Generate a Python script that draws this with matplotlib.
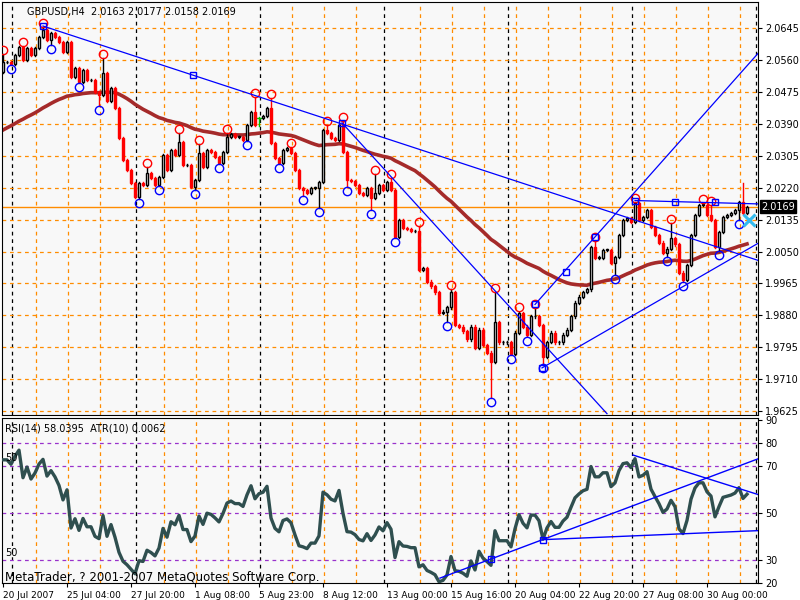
import numpy as np
import matplotlib
matplotlib.use("Agg")
import matplotlib.pyplot as plt

# ---------------- data ----------------
first_open = 2.0528
closes = [
 2.0555,2.0555,2.0550,2.0574,2.0595,2.0560,2.0592,2.0574,2.0592,2.0622,
 2.0640,2.0614,2.0632,2.0622,2.0608,2.0582,2.0608,2.0515,2.0539,2.0502,
 2.0534,2.0507,2.0507,2.0475,2.0467,2.0526,2.0451,2.0486,2.0433,2.0353,
 2.0294,2.0268,2.0233,2.0196,2.0233,2.0228,2.0260,2.0247,2.0228,2.0249,
 2.0308,2.0268,2.0321,2.0308,2.0342,2.0281,2.0281,2.0223,2.0241,2.0313,
 2.0276,2.0321,2.0316,2.0302,2.0286,2.0316,2.0356,2.0364,2.0356,2.0356,
 2.0348,2.0387,2.0422,2.0387,2.0406,2.0411,2.0433,2.0340,2.0300,2.0286,
 2.0321,2.0326,2.0313,2.0268,2.0220,2.0215,2.0207,2.0220,2.0220,2.0236,
 2.0374,2.0366,2.0353,2.0348,2.0387,2.0316,2.0241,2.0239,2.0228,2.0207,
 2.0201,2.0220,2.0193,2.0207,2.0228,2.0215,2.0236,2.0215,2.0090,2.0135,
 2.0113,2.0111,2.0105,2.0105,2.0002,2.0007,1.9970,1.9957,1.9941,1.9887,
 1.9890,1.9901,1.9941,1.9855,1.9850,1.9837,1.9816,1.9850,1.9794,1.9842,
 1.9802,1.9781,1.9757,1.9861,1.9808,1.9808,1.9808,1.9777,1.9834,1.9887,
 1.9850,1.9829,1.9877,1.9877,1.9855,1.9770,1.9810,1.9834,1.9808,1.9808,
 1.9829,1.9842,1.9877,1.9914,1.9930,1.9943,1.9949,2.0063,2.0034,2.0034,
 2.0055,2.0055,2.0020,2.0036,2.0095,2.0135,2.0140,2.0129,2.0180,2.0135,
 2.0143,2.0161,2.0116,2.0095,2.0074,2.0047,2.0058,2.0087,2.0069,1.9994,
 1.9975,2.0015,2.0095,2.0148,2.0175,2.0175,2.0148,2.0135,2.0063,2.0103,
 2.0143,2.0148,2.0153,2.0161,2.0183,2.0153,2.0169]
upper_wick_pips = [
 21,3,3,3,3,3,3,3,3,3, 8,3,3,3,3,3,3,3,3,3, 3,3,3,3,3,40,3,3,3,3,
 3,3,3,3,3,3,16,3,3,3, 3,3,3,3,24,3,3,3,3,24, 3,3,3,3,3,3,10,3,3,3,
 3,3,3,40,3,3,3,27,3,3, 3,3,3,3,3,3,3,3,3,3, 3,13,3,3,3,10,3,3,3,3,
 3,3,3,50,3,3,3,10,3,3, 3,3,3,3,13,3,3,3,3,3, 3,3,8,3,3,3,3,3,3,3,
 3,3,3,80,3,3,3,3,3,3, 3,3,3,21,3,3,3,3,3,3, 3,3,3,3,3,3,3,3,16,3,
 3,3,3,3,3,3,3,3,3,3, 3,3,3,3,3,3,3,40,3,3, 3,3,3,3,3,3,3,26,3,3,
 3,3,3,3,3,50,3]
lower_wick_pips = [
 3,3,3,3,3,3,3,3,3,3, 3,3,13,3,3,3,3,3,3,3, 3,3,3,3,29,3,3,3,3,3,
 3,3,3,3,5,3,3,3,3,3, 3,3,3,3,3,3,3,3,8,3, 3,3,3,3,3,3,3,3,3,3,
 3,3,3,3,3,3,3,3,3,3, 3,3,3,3,3,16,3,3,3,53, 3,3,3,3,3,3,19,3,3,3,
 3,3,32,3,3,3,3,3,3,3, 3,3,3,3,3,3,3,3,3,3, 3,27,3,3,3,3,3,3,3,3,
 3,3,98,3,3,3,3,3,3,3, 3,5,3,3,3,19,3,3,3,3, 3,3,3,3,3,3,3,3,3,3,
 3,3,3,32,3,3,3,3,3,3, 3,3,3,3,3,3,11,3,3,3, 5,3,3,3,3,3,3,3,3,11,
 3,3,3,3,27,3,3]
fractal_high_idx = [0,5,10,25,36,44,49,56,63,67,72,81,85,93,97,104,112,123,129,133,148,158,167,175,177]
fractal_low_idx = [2,12,19,24,34,39,48,54,61,69,75,79,86,92,98,111,122,127,131,135,153,166,170,179,184]
doji_green_idx = [64]

ma_seed = 2.0368
ma_period = 62
rsi_seed_gain = 0.0010
rsi_seed_loss = 0.00045

price_ticks = [2.0645,2.0560,2.0475,2.0390,2.0305,2.0220,2.0135,2.0050,1.9965,1.9880,1.9795,1.9710,1.9625]
last_price = 2.0169
date_labels = ["20 Jul 2007","25 Jul 04:00","27 Jul 20:00","1 Aug 08:00","5 Aug 23:00","8 Aug 12:00",
               "13 Aug 00:00","15 Aug 16:00","20 Aug 04:00","22 Aug 20:00","27 Aug 08:00","30 Aug 00:00"]
date_label_bars = [0,16,32,48,64,80,96,112,128,144,160,176]
rsi_ticks = [90,80,70,50,30,20]
rsi_grid = [80,70,50,30]

# trendlines (bar, price) anchors; extend to x_end
price_lines = [((10,2.0651),(47.5,2.0520),188.75),
               ((84.75,2.0393),(151,1.9618),151),
               ((133,1.9909),(148,2.0089),188.75),
               ((134.75,1.9740),(189.25,2.0075),188.75),
               ((158,2.0186),(188.75,2.0177),188.75)]
price_squares = [(10,2.0651),(47.5,2.0520),(84.75,2.0393),(133,1.9909),(140.75,1.9996),(148,2.0089),
                 (134.75,1.9740),(158,2.0186),(168,2.0183),(178,2.0181)]
rsi_lines = [((109.25,22.1),(189.25,73.6)),((135,38.6),(189.25,42.5)),((157.5,74.9),(189.25,57.7))]
rsi_squares = [(122,30.3),(135,38.6)]

# ---------------- compute ----------------
closes = np.array(closes)
n = len(closes)
opens = np.concatenate([[first_open], closes[:-1]])
highs = np.maximum(opens, closes) + np.array(upper_wick_pips) * 1e-4
lows = np.minimum(opens, closes) - np.array(lower_wick_pips) * 1e-4
x = np.arange(n)

ma = []
a = 2.0 / (ma_period + 1)
m = ma_seed
for c in closes:
    m = m + a * (c - m)
    ma.append(m)

rsi = []
g, l = rsi_seed_gain, rsi_seed_loss
for i in range(n):
    d = closes[i] - opens[i]
    g = (g * 13 + max(d, 0)) / 14
    l = (l * 13 + max(-d, 0)) / 14
    rsi.append(100 - 100 / (1 + g / l))

# ---------------- figure ----------------
fig = plt.figure(figsize=(8, 6), dpi=100)
fig.patch.set_facecolor("white")
XMIN, XMAX = -0.25, 188.75
ax = fig.add_axes([2/800, 1-415/600, 756/800, 413/600])
ax2 = fig.add_axes([2/800, 1-583/600, 756/800, 165/600])
for a_ in (ax, ax2):
    a_.set_facecolor("#f8f8f8")
    a_.set_xlim(XMIN, XMAX)
    for s in a_.spines.values():
        s.set_color("black"); s.set_linewidth(0.8)
ax.set_ylim(1.96145, 2.0715)
ax2.set_ylim(20.0, 90.8)

# vertical grid
black_v = [2.25 + 31*k for k in range(7)]
orange_v = [8.18 + 8*k for k in range(24)]
for a_ in (ax, ax2):
    for v in orange_v:
        if min(abs(v - b) for b in black_v) > 1.2:
            a_.axvline(v, color="#ff8c00", ls=(0, (3, 3)), lw=0.9, zorder=0)
    for v in black_v:
        a_.axvline(v, color="black", ls=(0, (3, 3)), lw=0.9, zorder=0)
for p in price_ticks:
    ax.axhline(p, color="#ff8c00", ls=(0, (3, 3)), lw=0.9, zorder=0)
for r in rsi_grid:
    ax2.axhline(r, color="#9932cc", ls=(0, (3, 3)), lw=0.9, zorder=0)

# MA
ax.plot(x, ma, color="#a52a2a", lw=2.6, zorder=2)

# candles
bw = 0.6
for i in range(n):
    o, c, h, lo = opens[i], closes[i], highs[i], lows[i]
    if i in doji_green_idx:
        col = "#00c000"
        ax.plot([i, i], [lo, h], color=col, lw=1, zorder=3)
        ax.plot([i - 0.4, i + 0.4], [c, c], color=col, lw=1, zorder=3)
        continue
    if c >= o:
        ax.plot([i, i], [lo, h], color="black", lw=1, zorder=3)
        ax.bar(i, max(c - o, 0.00008), bottom=o, width=bw, facecolor="white",
               edgecolor="black", lw=1, zorder=4)
    else:
        ax.plot([i, i], [lo, h], color="red", lw=1, zorder=3)
        ax.bar(i, o - c, bottom=c, width=bw, facecolor="red", edgecolor="red", lw=1, zorder=4)

# fractals
ax.plot(fractal_high_idx, highs[fractal_high_idx] + 0.0011, "o", mfc="none", mec="red", ms=6, mew=1, zorder=5)
ax.plot(fractal_low_idx, lows[fractal_low_idx] - 0.0011, "o", mfc="none", mec="blue", ms=6, mew=1, zorder=5)

# trendlines
def extend(p1, p2, xe):
    (x1, y1), (x2, y2) = p1, p2
    return [x1, xe], [y1, y1 + (y2 - y1) * (xe - x1) / (x2 - x1)]
for p1, p2, xe in price_lines:
    xs, ys = extend(p1, p2, xe)
    ax.plot(xs, ys, color="blue", lw=0.9, zorder=6)
ax.plot([s[0] for s in price_squares], [s[1] for s in price_squares], "s", mfc="none", mec="blue",
        ms=4.5, mew=1, zorder=7)

# last price line + marker
ax.axhline(last_price, color="#ff8c00", lw=1, zorder=1)
ax.plot([186.6], [2.0135], "x", color="#33bbee", ms=8, mew=2.2, zorder=8)

# price axis
ax.yaxis.tick_right()
ax.set_yticks(price_ticks)
ax.set_yticklabels([f"{p:.4f}" for p in price_ticks], fontsize=7)
ax.tick_params(axis="y", length=3, pad=2)
ax.set_xticks([])
ax.text(1.004, last_price, f"{last_price:.4f}", transform=ax.get_yaxis_transform(),
        ha="left", va="center", fontsize=7, color="white",
        bbox=dict(boxstyle="square,pad=0.15", fc="black", ec="black"), zorder=10, clip_on=False)
ax.text(6, 2.0688, "GBPUSD,H4  2.0163 2.0177 2.0158 2.0169", fontsize=7, va="center")

# RSI
ax2.plot(x, rsi, color="#2f4f4f", lw=2.4, zorder=3)
for p1, p2 in rsi_lines:
    xs, ys = extend(p1, p2, p2[0])
    ax2.plot(xs, ys, color="blue", lw=1, zorder=4)
ax2.plot([s[0] for s in rsi_squares], [s[1] for s in rsi_squares], "s", mfc="none", mec="blue",
         ms=4, mew=1, zorder=5)
ax2.yaxis.tick_right()
ax2.set_yticks(rsi_ticks)
ax2.set_yticklabels([str(t) for t in rsi_ticks], fontsize=7)
ax2.tick_params(axis="y", length=3, pad=2)
ax2.set_xticks(date_label_bars)
ax2.set_xticklabels(date_labels, fontsize=6.5, ha="left")
ax2.tick_params(axis="x", length=3, pad=3)
ax2.text(0.5, 86.5, "RSI(14) 58.0395  ATR(10) 0.0062", fontsize=7, va="center")
ax2.text(0.5, 73.5, "50", fontsize=7, va="center")
ax2.text(0.5, 32.8, "50", fontsize=7, va="center")
ax2.text(0.5, 22.5, "MetaTrader, ? 2001-2007 MetaQuotes Software Corp.", fontsize=8.5, va="center")

fig.savefig("out.png", dpi=100, facecolor="white")
